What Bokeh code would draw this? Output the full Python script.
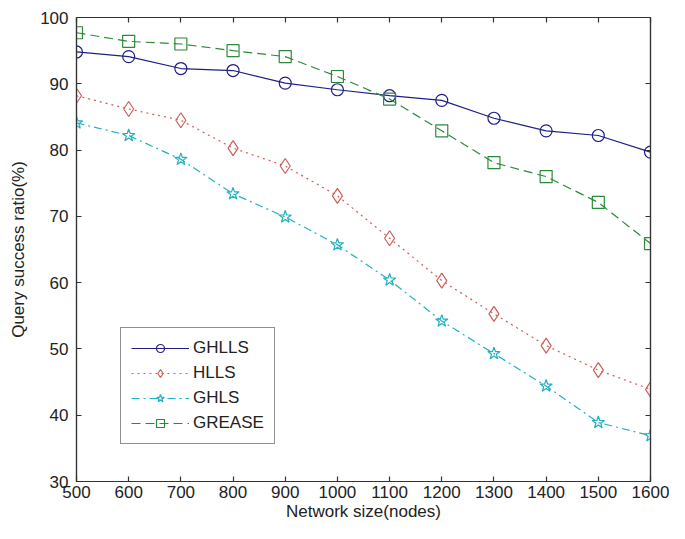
from bokeh.plotting import figure
from bokeh.models import (Range1d, LinearAxis, FixedTicker, Legend, CustomLabelingPolicy,
                          CustomJSTickFormatter)
from bokeh.embed import file_html
from bokeh.resources import INLINE

nodes = [500, 600, 700, 800, 900, 1000, 1100, 1200, 1300, 1400, 1500, 1600]
ghlls = [94.8, 94.1, 92.3, 92.0, 90.1, 89.1, 88.2, 87.5, 84.8, 82.9, 82.2, 79.7]
hlls = [88.2, 86.2, 84.5, 80.3, 77.6, 73.1, 66.7, 60.3, 55.3, 50.5, 46.8, 43.9]
ghls = [84.1, 82.2, 78.6, 73.4, 69.9, 65.7, 60.4, 54.2, 49.3, 44.4, 38.9, 36.9]
grease = [97.7, 96.4, 96.0, 95.0, 94.1, 91.1, 87.7, 82.9, 78.1, 76.0, 72.1, 65.9]
x_ticks = list(range(500, 1700, 100))
y_ticks = list(range(30, 110, 10))

FONT = "Liberation Sans"
FS = "17px"

p = figure(width=669, height=523, output_backend="svg", toolbar_location=None,
           x_range=Range1d(500, 1600), y_range=Range1d(30, 100),
           min_border_left=76, min_border_right=19, min_border_top=17, min_border_bottom=0)
p.grid.visible = False
p.outline_line_color = "#333333"
p.outline_line_width = 1.2

no_labels = CustomLabelingPolicy(code="""
const n = indices.size
for (let i = 0; i < n; i++) indices.unset(i)
return indices
""")
empty_fmt = CustomJSTickFormatter(code="return ''")

def style_axis(ax):
    ax.axis_line_color = "#333333"
    ax.axis_line_width = 1.2
    ax.major_tick_in = 5
    ax.major_tick_out = 0
    ax.minor_tick_in = 0
    ax.minor_tick_out = 0
    ax.major_tick_line_color = "#333333"
    ax.major_tick_line_width = 1.2
    ax.major_label_text_font = FONT
    ax.major_label_text_font_size = FS
    ax.major_label_text_color = "#222222"
    ax.axis_label_text_font = FONT
    ax.axis_label_text_font_size = "17px"
    ax.axis_label_text_font_style = "normal"
    ax.axis_label_text_color = "#222222"

p.xaxis.ticker = FixedTicker(ticks=x_ticks)
p.yaxis.ticker = FixedTicker(ticks=y_ticks)
style_axis(p.xaxis[0])
style_axis(p.yaxis[0])
p.xaxis.axis_label = "Network size(nodes)"
p.yaxis.axis_label = "Query success ratio(%)"
p.xaxis.major_label_standoff = 4
p.yaxis.major_label_standoff = 8
p.xaxis.axis_label_standoff = 1
p.yaxis.axis_label_standoff = 9

for loc, ticks in (("above", x_ticks), ("right", y_ticks)):
    ax = LinearAxis(ticker=FixedTicker(ticks=ticks), formatter=empty_fmt,
                    major_label_policy=no_labels)
    style_axis(ax)
    ax.major_label_text_font_size = "6px"
    ax.major_label_standoff = 0
    p.add_layout(ax, loc)

series = [
    ("GHLLS", ghlls, "#1f1f86", "solid", "circle", 12),
    ("HLLS", hlls, "#cc5f5a", "2 4", "diamond", 15),
    ("GHLS", ghls, "#22b0c2", "8 4 2 4", "star", 13),
    ("GREASE", grease, "#2b8a3a", "9 5", "square", 12),
]
items = []
for name, ys, color, dash, marker, size in series:
    r1 = p.line(nodes, ys, line_color=color, line_width=1.2, line_dash=dash)
    r2 = p.scatter(nodes, ys, marker=marker, size=size, line_color=color,
                   fill_color=None, line_width=1.2)
    items.append((name, [r1, r2]))

legend = Legend(items=items, location=(44, 37))
legend.border_line_color = "#222222"
legend.border_line_width = 1
legend.background_fill_color = "white"
legend.background_fill_alpha = 1
legend.glyph_width = 58
legend.glyph_height = 20
legend.label_height = 20
legend.spacing = 5
legend.padding = 10
legend.margin = 0
legend.label_standoff = 4
legend.label_text_font = FONT
legend.label_text_font_size = "17px"
legend.label_text_color = "#222222"
p.add_layout(legend, "center")

open("out.html", "w").write(file_html(p, INLINE))
